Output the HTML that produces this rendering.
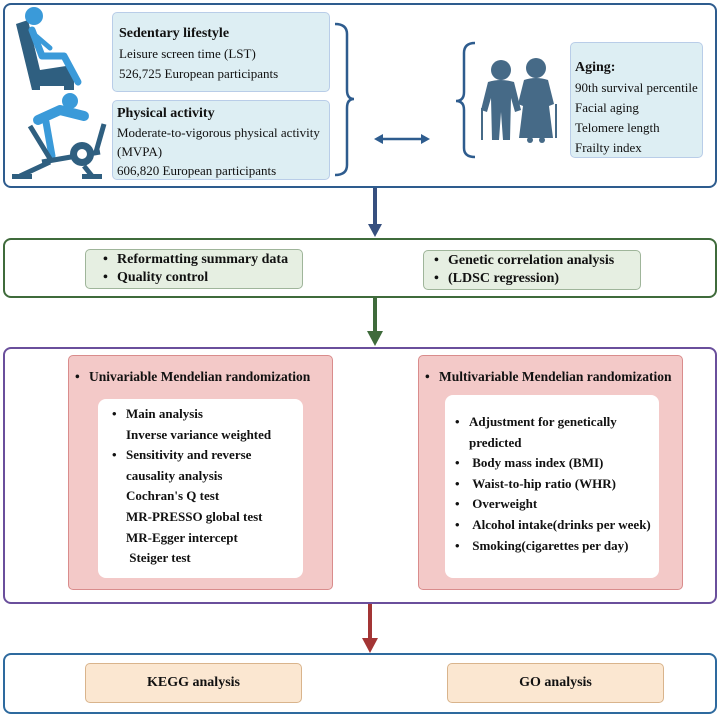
<!DOCTYPE html>
<html><head><meta charset="utf-8"><style>
*{margin:0;padding:0;box-sizing:border-box}
body{width:720px;height:716px;background:#fff;position:relative;overflow:hidden;font-family:"Liberation Serif",serif;color:#111}
.a{position:absolute}
.panel{position:absolute;border-radius:8px;background:#fff}
.bx{position:absolute;border-radius:5px}
.blue{background:#ddeef3;border:1.5px solid #b9cde8}
.t{font-size:13px;line-height:20px}
b{font-weight:bold}
ul{list-style:none}
li{position:relative;padding-left:16px}
li:before{content:"•";position:absolute;left:2px}
.green{background:#e6efe2;border:1.5px solid #9fb59a}
.pink{background:#f3c9c8;border:1.5px solid #d98c8c}
.white{background:#fff;border-radius:8px}
.beige{background:#fbe7d1;border:1.5px solid #d9b48c;display:flex;align-items:center;justify-content:center;font-weight:bold;font-size:14px}
</style></head><body>

<div class="panel" style="left:3px;top:3px;width:714px;height:185px;border:2px solid #2e5c8e"></div>
<div class="bx blue t" style="left:112px;top:12px;width:218px;height:80px;padding:10px 0 0 6px"><b style="font-size:14px">Sedentary lifestyle</b><br>Leisure screen time (LST)<br>526,725 European participants</div>
<div class="bx blue t" style="left:112px;top:100px;width:218px;height:80px;padding:2px 0 0 4px;line-height:19px"><b style="font-size:14px">Physical activity</b><br>Moderate-to-vigorous physical activity<br>(MVPA)<br>606,820 European participants</div>
<div class="bx blue t" style="left:570px;top:42px;width:133px;height:116px;padding:14px 0 0 4px"><b style="font-size:14px">Aging:</b><br>90th survival percentile<br>Facial aging<br>Telomere length<br>Frailty index</div>

<svg class="a" style="left:0;top:0" width="720" height="716">
<!-- chair icon -->
<path d="M16 24 L28 20 L40 70 L66 66 Q74 66 74 74 L74 90 L64 90 L64 86 L40 86 L40 90 L32 90 Z" fill="#2f5f80"/>
<circle cx="34" cy="16" r="9" fill="#3a9ad9"/>
<path d="M32 30 L42 56 L64 56 L78 82" stroke="#3a9ad9" stroke-width="7" fill="none" stroke-linecap="round" stroke-linejoin="round"/>
<path d="M36 36 L50 48" stroke="#3a9ad9" stroke-width="5" fill="none" stroke-linecap="round"/>
<!-- bike icon -->
<circle cx="70" cy="101" r="8" fill="#3a9ad9"/>
<path d="M38 120 L60 110 L84 116" stroke="#3a9ad9" stroke-width="10" fill="none" stroke-linecap="round" stroke-linejoin="round"/>
<path d="M46 122 L52 156" stroke="#3a9ad9" stroke-width="7" stroke-linecap="round"/>
<path d="M30 126 L52 162 M42 162 L100 152 M104 124 L96 152" stroke="#2f5f80" stroke-width="5" fill="none"/>
<circle cx="82" cy="154" r="12" fill="#2f5f80"/><circle cx="82" cy="154" r="5" fill="#fff"/>
<path d="M20 176 L50 162 M84 166 L92 176" stroke="#2f5f80" stroke-width="5" fill="none"/>
<rect x="12" y="174" width="20" height="5" fill="#2f5f80"/><rect x="82" y="174" width="20" height="5" fill="#2f5f80"/>
<!-- bracket -->
<path d="M335 24 Q347 24 347 34 L347 90 Q347 99 354 99 Q347 99 347 108 L347 165 Q347 175 335 175" stroke="#2e5c8e" stroke-width="2.5" fill="none"/>
<!-- double arrow -->
<line x1="380" y1="139" x2="424" y2="139" stroke="#2e5c8e" stroke-width="2.5"/>
<path d="M374 139 L383 134 L383 144 Z M430 139 L421 134 L421 144 Z" fill="#2e5c8e"/>
<!-- brace -->
<path d="M475 43 Q464 43 464 53 L464 92 Q464 101 456 101 Q464 101 464 110 L464 148 Q464 157 475 157" stroke="#2e5c8e" stroke-width="2.5" fill="none"/>
<!-- elderly -->
<g fill="#466a87">
<circle cx="501" cy="70" r="10"/>
<path d="M488 82 Q501 78 514 82 L521 110 L515 112 L511 98 L510 140 L503 140 L501 112 L499 140 L492 140 L491 98 L487 112 L481 110 Z"/>
<circle cx="536" cy="68" r="10"/>
<path d="M524 80 Q536 76 548 80 L554 104 L549 106 L553 138 L519 138 L523 106 L518 104 Z"/>
<circle cx="530" cy="140" r="3"/><circle cx="542" cy="140" r="3"/>
</g>
<path d="M482 108 L482 140 M556 104 L556 138" stroke="#466a87" stroke-width="2"/>
<!-- arrows between panels -->
<line x1="375" y1="188" x2="375" y2="226" stroke="#37507f" stroke-width="4"/>
<path d="M368 224 L382 224 L375 237 Z" fill="#37507f"/>
<line x1="375" y1="297" x2="375" y2="333" stroke="#3f6b3b" stroke-width="4"/>
<path d="M367 331 L383 331 L375 346 Z" fill="#3f6b3b"/>
<line x1="370" y1="604" x2="370" y2="640" stroke="#a33535" stroke-width="4"/>
<path d="M362 638 L378 638 L370 653 Z" fill="#a33535"/>
<line x1="305" y1="268" x2="411" y2="268" stroke="#3f6b3b" stroke-width="2.5"/>
<path d="M420 268 L409 262 L409 274 Z" fill="#3f6b3b"/>
</svg>

<div class="panel" style="left:3px;top:238px;width:714px;height:60px;border:2px solid #3f6b3b"></div>
<div class="bx green" style="left:85px;top:249px;width:218px;height:40px;padding:1px 0 0 15px;font-weight:bold;font-size:14px;line-height:18px"><ul><li>Reformatting summary data</li><li>Quality control</li></ul></div>
<div class="bx green" style="left:423px;top:250px;width:218px;height:40px;padding:1px 0 0 8px;font-weight:bold;font-size:14px;line-height:18px"><ul><li>Genetic correlation analysis</li><li>(LDSC regression)</li></ul></div>

<div class="panel" style="left:3px;top:347px;width:714px;height:257px;border:2px solid #6a4f9c"></div>
<div class="bx pink t" style="left:68px;top:355px;width:265px;height:235px;font-weight:bold">
<div style="position:absolute;left:4px;top:11px;font-size:13.5px"><ul><li>Univariable Mendelian randomization</li></ul></div>
<div class="white" style="position:absolute;left:29px;top:43px;width:205px;height:179px;padding:5px 0 0 12px;line-height:20.6px">
<ul><li>Main analysis<br>Inverse variance weighted</li><li>Sensitivity and reverse<br>causality analysis<br>Cochran's Q test<br>MR-PRESSO global test<br>MR-Egger intercept<br>&nbsp;Steiger test</li></ul></div></div>
<div class="bx pink t" style="left:418px;top:355px;width:265px;height:235px;font-weight:bold">
<div style="position:absolute;left:4px;top:11px;font-size:13.5px"><ul><li>Multivariable Mendelian randomization</li></ul></div>
<div class="white" style="position:absolute;left:26px;top:39px;width:214px;height:183px;padding:17px 0 0 8px;line-height:20.6px">
<ul><li>Adjustment for genetically<br>predicted</li><li>&nbsp;Body mass index (BMI)</li><li>&nbsp;Waist-to-hip ratio (WHR)</li><li>&nbsp;Overweight</li><li>&nbsp;Alcohol intake(drinks per week)</li><li>&nbsp;Smoking(cigarettes per day)</li></ul></div></div>

<div class="panel" style="left:3px;top:653px;width:714px;height:61px;border:2px solid #2e6a9e"></div>
<div class="bx beige" style="left:85px;top:663px;width:217px;height:40px">KEGG analysis</div>
<div class="bx beige" style="left:447px;top:663px;width:217px;height:40px">GO analysis</div>
</body></html>
